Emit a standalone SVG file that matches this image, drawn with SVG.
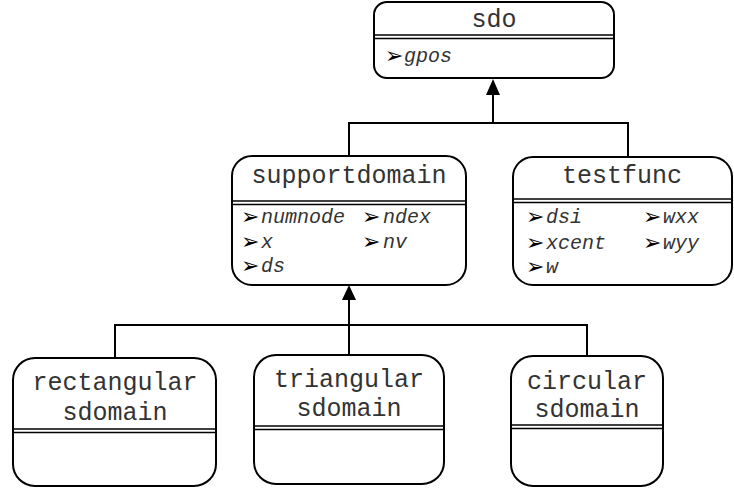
<svg xmlns="http://www.w3.org/2000/svg" width="734" height="488" viewBox="0 0 734 488">
  <style>
    .box { fill: #ffffff; stroke: #000000; stroke-width: 2; }
    .sep { stroke: #000000; stroke-width: 1.6; fill: none; }
    .title { font-family: "Liberation Mono", "Courier New", monospace; font-size: 25px; fill: #333333; text-anchor: middle; }
    .attr { font-family: "Liberation Mono", "Courier New", monospace; font-size: 20px; font-style: italic; fill: #333333; }
    .bul { font-family: "DejaVu Sans", sans-serif; font-size: 22px; fill: #000000; }
    .wire { stroke: #000000; stroke-width: 2; fill: none; }
    .head { fill: #000000; stroke: none; }
  </style>

  <!-- inheritance connectors -->
  <g id="connectors">
    <polyline class="wire" points="349,155 349,123 628,123 628,157"/>
    <line class="wire" x1="493" y1="94" x2="493" y2="123"/>
    <polygon class="head" points="493,79 486,95 500,95"/>
    <polyline class="wire" points="115,358 115,325 587,325 587,356"/>
    <line class="wire" x1="349" y1="299" x2="349" y2="355"/>
    <polygon class="head" points="349,285 342,300 356,300"/>
  </g>

  <g id="sdo">
    <rect class="box" x="374" y="2" width="240" height="76" rx="13"/>
    <line class="sep" x1="374" y1="35" x2="614" y2="35"/>
    <line class="sep" x1="374" y1="38.5" x2="614" y2="38.5"/>
    <text class="title" x="494" y="27">sdo</text>
    <text class="bul" x="385" y="63">➢</text>
    <text class="attr" x="404" y="62">gpos</text>
  </g>

  <g id="supportdomain">
    <rect class="box" x="232" y="156" width="234" height="129" rx="20"/>
    <line class="sep" x1="232" y1="201" x2="466" y2="201"/>
    <line class="sep" x1="232" y1="204.5" x2="466" y2="204.5"/>
    <text class="title" x="349" y="183">supportdomain</text>
    <text class="bul" x="241" y="224">➢</text>
    <text class="attr" x="261" y="223">numnode</text>
    <text class="bul" x="362" y="224">➢</text>
    <text class="attr" x="383" y="223">ndex</text>
    <text class="bul" x="241" y="249">➢</text>
    <text class="attr" x="261" y="248">x</text>
    <text class="bul" x="362" y="249">➢</text>
    <text class="attr" x="383" y="248">nv</text>
    <text class="bul" x="241" y="273">➢</text>
    <text class="attr" x="261" y="272">ds</text>
  </g>

  <g id="testfunc">
    <rect class="box" x="513" y="157" width="219" height="128" rx="20"/>
    <line class="sep" x1="513" y1="199" x2="732" y2="199"/>
    <line class="sep" x1="513" y1="202.5" x2="732" y2="202.5"/>
    <text class="title" x="622" y="183">testfunc</text>
    <text class="bul" x="526" y="224">➢</text>
    <text class="attr" x="546" y="223">dsi</text>
    <text class="bul" x="643" y="224">➢</text>
    <text class="attr" x="663" y="223">wxx</text>
    <text class="bul" x="526" y="250">➢</text>
    <text class="attr" x="546" y="249">xcent</text>
    <text class="bul" x="643" y="250">➢</text>
    <text class="attr" x="663" y="249">wyy</text>
    <text class="bul" x="526" y="274">➢</text>
    <text class="attr" x="546" y="273">w</text>
  </g>

  <g id="rectangular_sdomain">
    <rect class="box" x="13" y="358" width="203" height="128" rx="22"/>
    <line class="sep" x1="13" y1="429" x2="216" y2="429"/>
    <line class="sep" x1="13" y1="432.5" x2="216" y2="432.5"/>
    <text class="title" x="115" y="390">rectangular</text>
    <text class="title" x="115" y="420">sdomain</text>
  </g>

  <g id="triangular_sdomain">
    <rect class="box" x="254" y="355" width="190" height="129" rx="22"/>
    <line class="sep" x1="254" y1="426" x2="444" y2="426"/>
    <line class="sep" x1="254" y1="429.5" x2="444" y2="429.5"/>
    <text class="title" x="349" y="387">triangular</text>
    <text class="title" x="349" y="416">sdomain</text>
  </g>

  <g id="circular_sdomain">
    <rect class="box" x="511" y="356" width="152" height="130" rx="22"/>
    <line class="sep" x1="511" y1="425" x2="663" y2="425"/>
    <line class="sep" x1="511" y1="428.5" x2="663" y2="428.5"/>
    <text class="title" x="587" y="389">circular</text>
    <text class="title" x="587" y="417">sdomain</text>
  </g>
</svg>
